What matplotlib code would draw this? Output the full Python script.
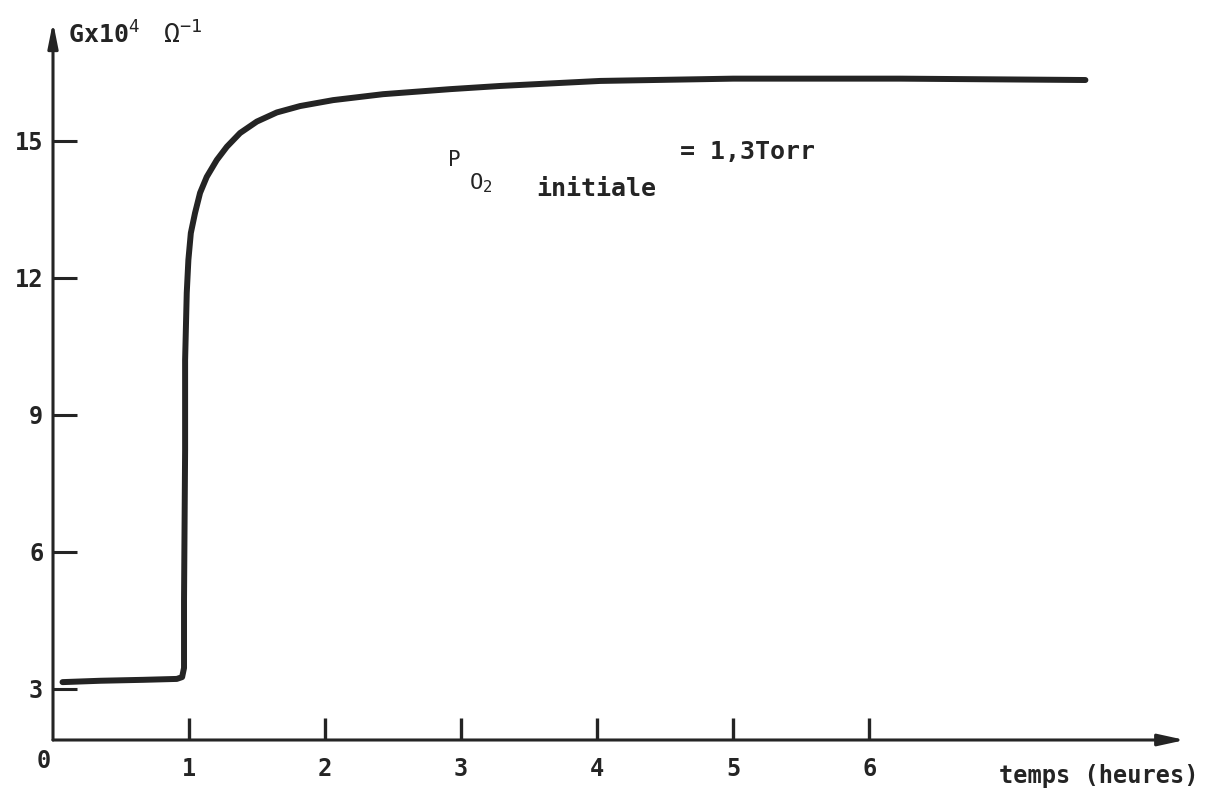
import matplotlib
matplotlib.use("Agg")
import matplotlib.pyplot as plt

# Data (time in hours, conductance G x 10^4 ohm^-1)
temps_h = [0.07, 0.35, 0.66, 0.91, 0.949, 0.963, 0.963, 0.971, 0.971, 0.983,
           0.995, 1.013, 1.044, 1.081, 1.130, 1.204, 1.278, 1.375, 1.498,
           1.645, 1.816, 2.059, 2.426, 2.919, 3.287, 4.022, 5.0, 6.228, 7.588]
conductance = [3.15, 3.18, 3.20, 3.22, 3.26, 3.46, 4.95, 8.23, 10.2, 11.67,
               12.39, 12.98, 13.42, 13.86, 14.21, 14.58, 14.87, 15.17, 15.42,
               15.62, 15.76, 15.89, 16.02, 16.13, 16.20, 16.31, 16.36, 16.36,
               16.33]
x_ticks = [1, 2, 3, 4, 5, 6]
y_ticks = [3, 6, 9, 12, 15]

plt.rcParams['font.family'] = ['DejaVu Sans Mono', 'DejaVu Sans']
plt.rcParams['mathtext.fontset'] = 'custom'
plt.rcParams['mathtext.rm'] = 'DejaVu Sans Mono'
plt.rcParams['mathtext.it'] = 'DejaVu Sans Mono'
plt.rcParams['mathtext.bf'] = 'DejaVu Sans Mono:bold'

fig = plt.figure(figsize=(12.08, 8.0), dpi=100)
ax = fig.add_axes([53 / 1208, 60 / 800, 1132 / 1208, 718 / 800])
ax.set_xlim(0, 8.32)
ax.set_ylim(1.883, 17.6)

col = '#242424'
ax.plot(temps_h, conductance, color=col, lw=4.3, solid_joinstyle='round',
        solid_capstyle='round')

for s in ax.spines.values():
    s.set_visible(False)

# axes with arrows
ax.annotate('', xy=(1.0, 0.0), xycoords='axes fraction', xytext=(0.0, 0.0),
            arrowprops=dict(arrowstyle='-|>,head_length=1.6,head_width=0.35',
                            lw=2.2, color=col, shrinkA=0, shrinkB=0))
ax.annotate('', xy=(0.0, 1.0), xycoords='axes fraction', xytext=(0.0, 0.0),
            arrowprops=dict(arrowstyle='-|>,head_length=1.5,head_width=0.3',
                            lw=2.2, color=col, shrinkA=0, shrinkB=0))

ax.set_xticks(x_ticks)
ax.set_xticklabels([str(v) for v in x_ticks])
ax.set_yticks(y_ticks)
ax.set_yticklabels([str(v) for v in y_ticks])
ax.tick_params(axis='x', direction='in', length=16, width=2.4, color=col,
               pad=12, labelsize=17, labelcolor=col)
ax.tick_params(axis='y', direction='in', length=17, width=2.2, color=col,
               pad=7, labelsize=17, labelcolor=col)
for lab in ax.get_xticklabels() + ax.get_yticklabels():
    lab.set_fontweight('bold')

# origin label
ax.text(-0.002, -0.013, '0', transform=ax.transAxes, ha='right', va='top',
        fontsize=17, fontweight='bold', color=col)

# y-axis title
ax.text(0.013, 0.982, r'Gx10$^{4}$', transform=ax.transAxes,
        ha='left', va='center', fontsize=18, fontweight='bold', color=col)
ax.text(0.097, 0.982, r'$\Omega^{-1}$', transform=ax.transAxes,
        ha='left', va='center', fontsize=19, color=col)

# x-axis title
ax.text(1.012, -0.05, 'temps (heures)', transform=ax.transAxes, ha='right',
        va='center', fontsize=17, fontweight='bold', color=col)

# annotation P_O2 initiale = 1,3Torr
ax.text(2.90, 14.58, 'P', ha='left', va='center', fontsize=15, color=col)
ax.text(3.06, 14.08, r'O$_{2}$', ha='left', va='center', fontsize=16, color=col)
ax.text(3.55, 13.95, 'initiale', ha='left', va='center', fontsize=18,
        fontweight='bold', color=col)
ax.text(4.61, 14.75, '= 1,3Torr', ha='left', va='center', fontsize=18,
        fontweight='bold', color=col)

fig.savefig('out.png', dpi=100, facecolor='white')
